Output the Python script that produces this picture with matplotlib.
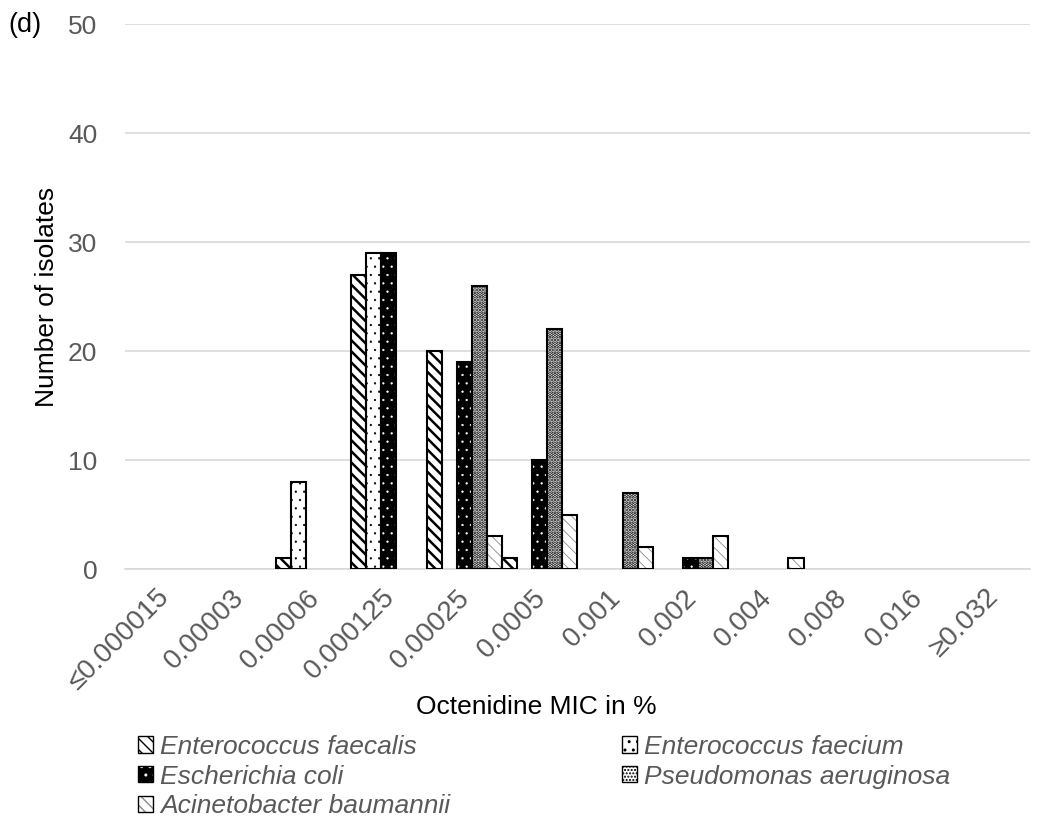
import numpy as np
import matplotlib.pyplot as plt
from matplotlib.patches import Patch
from matplotlib.legend_handler import HandlerTuple
from matplotlib.transforms import ScaledTranslation

plt.rcParams['font.family'] = ['Liberation Sans', 'DejaVu Sans']

# MIC categories (x axis)
mic_labels = ['≤0.000015', '0.00003', '0.00006', '0.000125', '0.00025', '0.0005',
              '0.001', '0.002', '0.004', '0.008', '0.016', '≥0.032']

# number of isolates per species
faecalis = [0, 0, 1, 27, 20, 1, 0, 0, 0, 0, 0, 0]
faecium = [0, 0, 8, 29, 0, 0, 0, 0, 0, 0, 0, 0]
coli = [0, 0, 0, 29, 19, 10, 0, 1, 0, 0, 0, 0]
aeruginosa = [0, 0, 0, 0, 26, 22, 7, 1, 0, 0, 0, 0]
baumannii = [0, 0, 0, 0, 3, 5, 2, 3, 1, 0, 0, 0]

species = ['Enterococcus faecalis', 'Enterococcus faecium', 'Escherichia coli',
           'Pseudomonas aeruginosa', 'Acinetobacter baumannii']
series = [faecalis, faecium, coli, aeruginosa, baumannii]

# face, hatch colour, hatch pattern, hatch linewidth
styles = [
    ('white', 'black', '\\\\\\', 1.8),
    ('white', 'black', '..', 0.4),
    ('black', 'white', '..', 0.4),
    ('white', 'black', '.....', 1.8),
    ('white', '#8a8a8a', '\\\\\\', 0.6),
]

gray = '#595959'
grid = '#d9d9d9'

fig = plt.figure(figsize=(10.38, 8.23), dpi=100)
ax = fig.add_axes([0.1204, 0.3086, 0.8716, 0.6622])

x = np.arange(len(mic_labels))
w = 0.2
legend_handles = []
for i, (vals, name, st) in enumerate(zip(series, species, styles)):
    face, hcol, hatch, hlw = st
    pos = x + (i - 2) * w
    v = np.array(vals)
    m = v > 0
    bars = ax.bar(pos[m], v[m], w, color=face, edgecolor=hcol, hatch=hatch,
                  linewidth=0, zorder=3)
    for b in bars:
        if hasattr(b, 'set_hatch_linewidth'):
            b.set_hatch_linewidth(hlw)
    ax.bar(pos[m], v[m], w, fill=False, edgecolor='black', linewidth=1.5, zorder=4)
    h = Patch(facecolor=face, edgecolor=hcol, hatch=hatch, linewidth=0)
    if hasattr(h, 'set_hatch_linewidth'):
        h.set_hatch_linewidth(hlw)
    legend_handles.append((h, Patch(fill=False, edgecolor='black', linewidth=1.0), name))

ax.set_xlim(-0.5, len(mic_labels) - 0.5)
ax.set_ylim(0, 50)
ax.set_yticks(range(0, 51, 10))
ax.grid(axis='y', color=grid, linewidth=1.2, zorder=0)
for s in ['top', 'right', 'left']:
    ax.spines[s].set_visible(False)
ax.spines['bottom'].set_color(grid)
ax.spines['bottom'].set_linewidth(1.2)
ax.tick_params(length=0, labelsize=19, colors=gray)
ax.tick_params(axis='y', pad=20)
ax.set_xticks(x)
ax.set_xticklabels(mic_labels, rotation=45, ha='right', rotation_mode='anchor', fontsize=20)
ax.tick_params(axis='x', pad=11)
shift = ScaledTranslation(-7 / 100, 0, fig.dpi_scale_trans)
for lab in ax.get_xticklabels():
    lab.set_transform(lab.get_transform() + shift)

ax.set_ylabel('Number of isolates', fontsize=19, color='black', labelpad=6)
ax.set_xlabel('Octenidine MIC in %', fontsize=19, color='black', va='center')
ax.xaxis.set_label_coords(0.455, -0.253)

fig.text(0.008, 0.970, '(d)', fontsize=19.5, color='black', va='center', ha='left')

order = [0, 2, 4, 1, 3]
hs = [(legend_handles[k][0], legend_handles[k][1]) for k in order]
ls = [legend_handles[k][2] for k in order]
leg = fig.legend(hs, ls, ncol=2, loc='upper left', bbox_to_anchor=(0.1225, 0.120),
                 frameon=False, fontsize=19, handlelength=0.57, handleheight=0.57,
                 handletextpad=0.28, labelspacing=0.22, columnspacing=6.5,
                 borderaxespad=0, handler_map={tuple: HandlerTuple(ndivide=1)})
for t in leg.get_texts():
    t.set_color(gray)
    t.set_style('italic')

fig.savefig('out.png', dpi=100)
